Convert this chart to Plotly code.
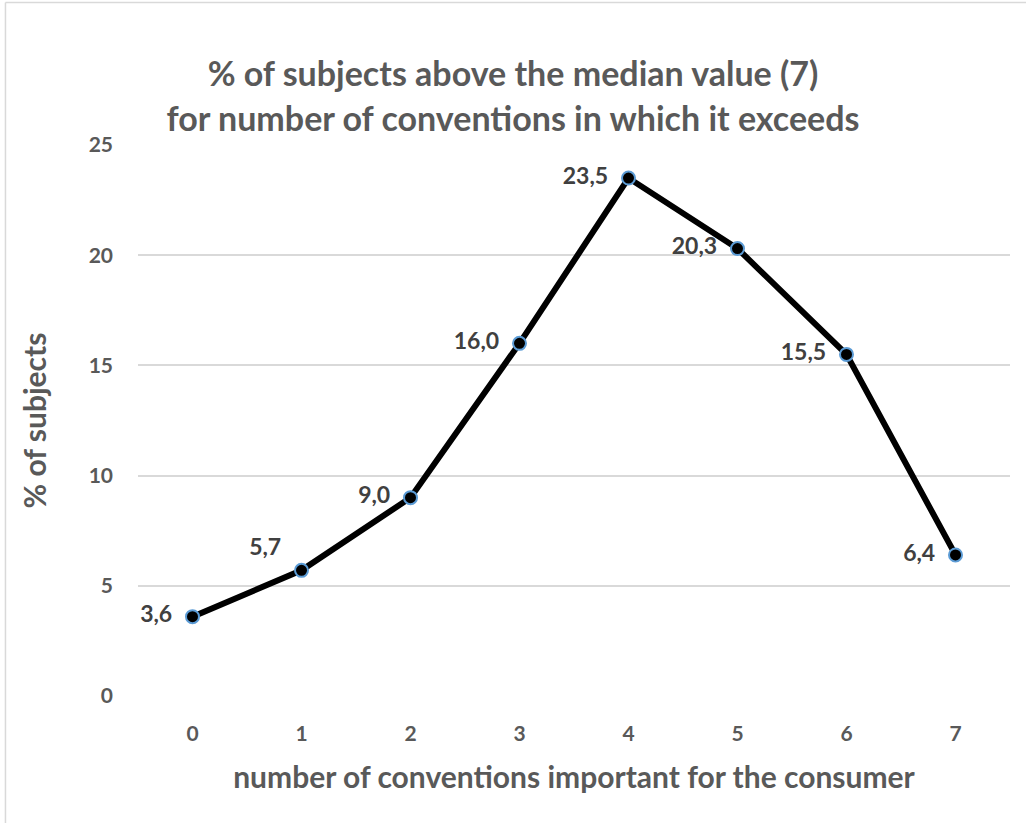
import plotly.graph_objects as go

# Share of subjects by number of important conventions
conventions = [0, 1, 2, 3, 4, 5, 6, 7]
pct_subjects = [3.6, 5.7, 9.0, 16.0, 23.5, 20.3, 15.5, 6.4]
label_positions = ["middle left", "top left", "middle left", "middle left",
                   "middle left", "middle left", "middle left", "middle left"]
y_ticks = [0, 5, 10, 15, 20, 25]

title_text = "% of subjects above the median value (7)<br>for number of conventions in which it exceeds"
x_title = "number of conventions important for the consumer"
y_title = "% of subjects"

FONT = "Lato, Open Sans, sans-serif"
GREY = "#595959"

labels = [f"{v:.1f}".replace(".", ",") + "  " for v in pct_subjects]

fig = go.Figure(
    go.Scatter(
        x=conventions,
        y=pct_subjects,
        mode="lines+markers+text",
        line=dict(color="black", width=6),
        marker=dict(size=13, color="black", line=dict(color="#5B9BD5", width=2)),
        text=labels,
        textposition=label_positions,
        textfont=dict(family=FONT, size=23, color="#404040", weight="bold"),
        cliponaxis=False,
        hoverinfo="skip",
    )
)

fig.update_layout(
    width=1026,
    height=823,
    paper_bgcolor="white",
    plot_bgcolor="white",
    showlegend=False,
    margin=dict(l=138, r=16, t=145, b=127),
    title=dict(
        text=title_text,
        x=0.5,
        xanchor="center",
        y=0.895,
        yanchor="top",
        font=dict(family=FONT, size=34, color=GREY, weight="bold"),
    ),
    xaxis=dict(
        range=[-0.5, 7.5],
        tickmode="array",
        tickvals=conventions,
        ticktext=[str(c) for c in conventions],
        showgrid=False,
        zeroline=False,
        showline=False,
        ticks="",
        ticklabelstandoff=23,
        tickfont=dict(family=FONT, size=21, color=GREY, weight="bold"),
        title=dict(text=x_title, standoff=22,
                   font=dict(family=FONT, size=30, color=GREY, weight="bold")),
    ),
    yaxis=dict(
        range=[0, 25],
        tickmode="array",
        tickvals=y_ticks,
        showgrid=True,
        gridcolor="#D9D9D9",
        gridwidth=1.5,
        zeroline=False,
        showline=False,
        ticks="",
        ticklabelstandoff=24,
        tickfont=dict(family=FONT, size=21, color=GREY, weight="bold"),
        title=dict(text=y_title, standoff=33,
                   font=dict(family=FONT, size=30, color=GREY, weight="bold")),
    ),
    shapes=[
        dict(type="line", xref="paper", yref="paper",
             x0=-0.152, x1=-0.152, y0=-0.235, y1=1.2586,
             line=dict(color="#D9D9D9", width=1.5)),
        dict(type="line", xref="paper", yref="paper",
             x0=-0.152, x1=1.02, y0=1.2586, y1=1.2586,
             line=dict(color="#D9D9D9", width=1.5)),
    ],
)

fig.write_html("out.html")
